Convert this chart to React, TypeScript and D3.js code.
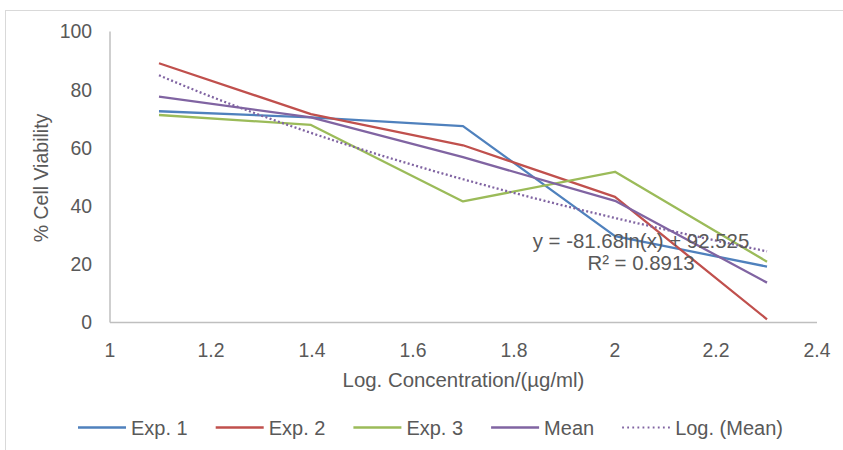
import React, { useMemo } from "react";
import * as d3 from "d3";

const concentrations = [1.097, 1.398, 1.699, 2.0, 2.301];
const exp1 = [72.6, 70.5, 67.5, 29.7, 19.2];
const exp2 = [89.1, 71.6, 60.9, 43.2, 1.1];
const exp3 = [71.3, 67.9, 41.6, 51.8, 20.9];
const meanVals = [77.6, 70.5, 56.8, 41.8, 13.7];
const trendA = -81.68;
const trendB = 92.525;
const trendLabel1 = "y = -81.68ln(x) + 92.525";
const trendLabel2 = "R² = 0.8913";
const xTicks = [1, 1.2, 1.4, 1.6, 1.8, 2, 2.2, 2.4];
const yTicks = [0, 20, 40, 60, 80, 100];
const seriesNames = ["Exp. 1", "Exp. 2", "Exp. 3", "Mean"];
const trendName = "Log. (Mean)";
const colors = ["#4F81BD", "#C0504D", "#9BBB59", "#8064A2"];
const xTitle = "Log. Concentration/(µg/ml)";
const yTitle = "% Cell Viability";

const FONT = "'Liberation Sans', Arial, sans-serif";
const TEXT = "#595959";

export default function App() {
  const W = 843, H = 450;
  const x = d3.scaleLinear().domain([1, 2.4]).range([110, 817]);
  const y = d3.scaleLinear().domain([0, 100]).range([322.5, 31.5]);
  const series = [exp1, exp2, exp3, meanVals];
  const line = d3
    .line<[number, number]>()
    .x((d) => x(d[0]))
    .y((d) => y(d[1]));

  const trendPts: [number, number][] = useMemo(() => {
    const x0 = concentrations[0];
    const x1 = concentrations[concentrations.length - 1];
    return d3.range(0, 61).map((i) => {
      const xv = x0 + ((x1 - x0) * i) / 60;
      return [xv, trendA * Math.log(xv) + trendB] as [number, number];
    });
  }, []);

  const legendItems = useMemo(() => {
    const canvas = document.createElement("canvas");
    const ctx = canvas.getContext("2d")!;
    ctx.font = `20px ${FONT}`;
    const names = [...seriesNames, trendName];
    let cx = 78;
    return names.map((n, i) => {
      const w = ctx.measureText(n).width;
      const item = { name: n, x: cx, dotted: i === 4, color: colors[Math.min(i, 3)] };
      cx += 48 + 5 + w + 28;
      return item;
    });
  }, []);

  return (
    <svg
      width={W}
      height={H}
      style={{ position: "absolute", left: 0, top: 0, background: "#fff" }}
      fontFamily={FONT}
    >
      <rect x={0} y={0} width={W} height={H} fill="#fff" />
      <rect x={5.5} y={10.5} width={900} height={500} fill="none" stroke="#D9D9D9" strokeWidth={1} />
      {/* axes */}
      <line x1={x(1)} x2={x(1)} y1={y(100)} y2={y(0)} stroke="#BFBFBF" strokeWidth={1.5} />
      <line x1={x(1)} x2={x(2.4)} y1={y(0)} y2={y(0)} stroke="#BFBFBF" strokeWidth={1.5} />
      {yTicks.map((t) => (
        <text key={t} x={92} y={y(t) + 6.8} textAnchor="end" fontSize={19.4} fill={TEXT}>
          {t}
        </text>
      ))}
      {xTicks.map((t) => (
        <text key={t} x={x(t)} y={356.5} textAnchor="middle" fontSize={19.4} fill={TEXT}>
          {t}
        </text>
      ))}
      <text x={463.5} y={386.5} textAnchor="middle" fontSize={20.4} fill={TEXT}>
        {xTitle}
      </text>
      <text
        transform={`translate(48,178) rotate(-90)`}
        textAnchor="middle"
        fontSize={19.5}
        fill={TEXT}
      >
        {yTitle}
      </text>
      {/* series */}
      {series.map((s, i) => (
        <path
          key={i}
          d={line(concentrations.map((c, j) => [c, s[j]] as [number, number])) || ""}
          fill="none"
          stroke={colors[i]}
          strokeWidth={2.3}
          strokeLinejoin="round"
        />
      ))}
      <path
        d={line(trendPts) || ""}
        fill="none"
        stroke={colors[3]}
        strokeWidth={2.3}
        strokeDasharray="2 2.4"
      />
      <text x={641} y={247.5} textAnchor="middle" fontSize={20.4} fill={TEXT}>
        {trendLabel1}
      </text>
      <text x={641} y={270} textAnchor="middle" fontSize={20.4} fill={TEXT}>
        {trendLabel2}
      </text>
      {/* legend */}
      {legendItems.map((it) => (
        <g key={it.name}>
          <line
            x1={it.x}
            x2={it.x + 48}
            y1={427.5}
            y2={427.5}
            stroke={it.color}
            strokeWidth={it.dotted ? 1.8 : 2.5}
            strokeDasharray={it.dotted ? "1.8 3.3" : undefined}
          />
          <text x={it.x + 53} y={434.5} fontSize={20} fill={TEXT}>
            {it.name}
          </text>
        </g>
      ))}
    </svg>
  );
}
